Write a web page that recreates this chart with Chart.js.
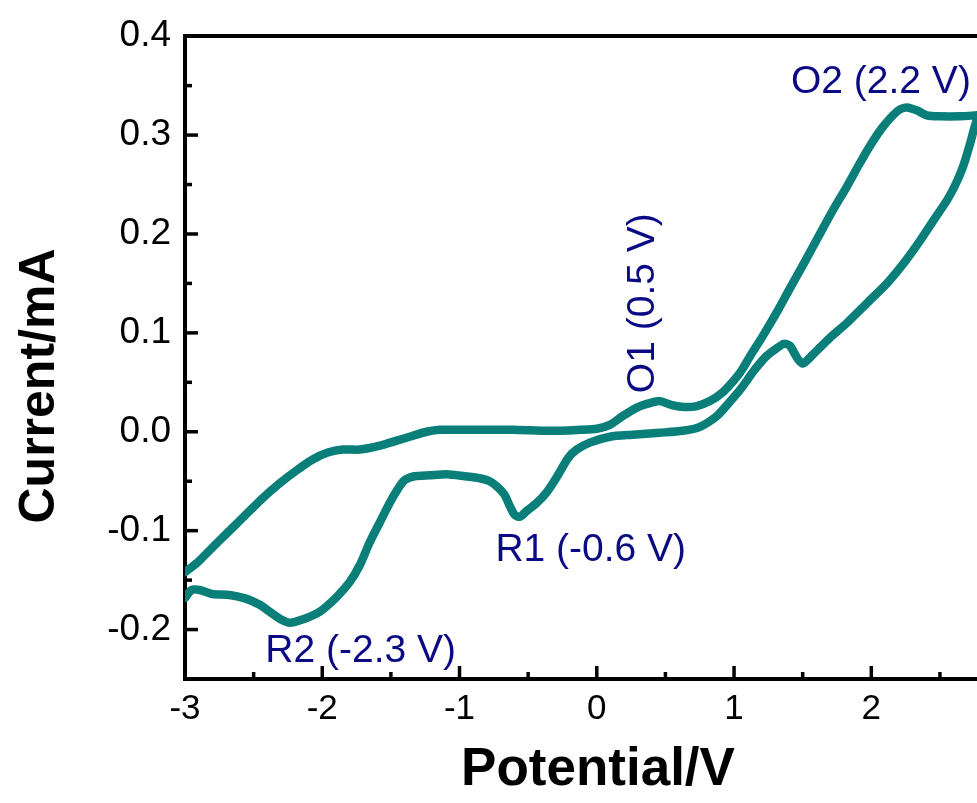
<!DOCTYPE html>
<html lang="en">
<head>
<meta charset="UTF-8">
<title>Cyclic voltammogram</title>
<script src="https://cdn.jsdelivr.net/npm/chart.js@4.4.1/dist/chart.umd.min.js"></script>
<style>
  html, body { margin: 0; padding: 0; background: #fff; }
  #wrap { width: 977px; height: 803px; }
</style>
</head>
<body>
<div id="wrap"><canvas id="cv" width="977" height="803"></canvas></div>
<script>
// forward scan (upper branch), -3 V up to the right edge
const fwdPotential = [-3.0, -2.908, -2.80, -2.675, -2.551, -2.434, -2.31, -2.187, -2.07, -1.96, -1.85, -1.727, -1.58, -1.458, -1.34, -1.24, -1.144, -0.926, -0.612, -0.343, -0.124, 0.0, 0.095, 0.19, 0.30, 0.386, 0.46, 0.547, 0.641, 0.729, 0.824, 0.918, 1.006, 1.064, 1.115, 1.21, 1.312, 1.407, 1.516, 1.625, 1.72, 1.822, 1.91, 1.99, 2.077, 2.157, 2.208, 2.259, 2.332, 2.405, 2.50, 2.646, 2.77];
const fwdCurrent   = [-0.142, -0.132, -0.117, -0.100, -0.083, -0.067, -0.052, -0.039, -0.028, -0.021, -0.018, -0.018, -0.014, -0.009, -0.004, 0.000, 0.002, 0.002, 0.002, 0.001, 0.002, 0.003, 0.007, 0.016, 0.025, 0.029, 0.031, 0.027, 0.025, 0.026, 0.031, 0.040, 0.053, 0.064, 0.076, 0.097, 0.121, 0.145, 0.172, 0.200, 0.224, 0.248, 0.270, 0.289, 0.307, 0.320, 0.326, 0.328, 0.325, 0.320, 0.319, 0.319, 0.320];

// reverse scan (lower branch), right edge back to -3 V
const revPotential = [2.77, 2.748, 2.719, 2.668, 2.61, 2.551, 2.464, 2.354, 2.245, 2.114, 1.968, 1.822, 1.698, 1.574, 1.501, 1.458, 1.407, 1.363, 1.297, 1.239, 1.152, 1.042, 0.955, 0.875, 0.751, 0.627, 0.459, 0.262, 0.095, -0.051, -0.146, -0.211, -0.292, -0.364, -0.437, -0.51, -0.561, -0.598, -0.634, -0.671, -0.722, -0.78, -0.853, -0.962, -1.093, -1.217, -1.327, -1.40, -1.45, -1.509, -1.582, -1.655, -1.727, -1.80, -1.895, -2.019, -2.128, -2.238, -2.31, -2.383, -2.456, -2.551, -2.675, -2.80, -2.893, -2.952, -3.0];
const revCurrent   = [0.316, 0.306, 0.291, 0.268, 0.249, 0.234, 0.216, 0.193, 0.172, 0.150, 0.130, 0.110, 0.095, 0.078, 0.069, 0.075, 0.087, 0.089, 0.083, 0.077, 0.063, 0.042, 0.028, 0.016, 0.005, 0.001, -0.001, -0.003, -0.005, -0.011, -0.018, -0.027, -0.046, -0.061, -0.072, -0.080, -0.086, -0.084, -0.075, -0.064, -0.056, -0.050, -0.047, -0.045, -0.043, -0.044, -0.045, -0.049, -0.058, -0.072, -0.092, -0.112, -0.135, -0.152, -0.167, -0.182, -0.189, -0.193, -0.189, -0.182, -0.175, -0.169, -0.165, -0.164, -0.160, -0.160, -0.168];

const xTicks = [-3, -2, -1, 0, 1, 2];
const xMinor = [-2.5, -1.5, -0.5, 0.5, 1.5, 2.5];
const yTicks = [-0.2, -0.1, 0.0, 0.1, 0.2, 0.3, 0.4];
const yMinor = [-0.15, -0.05, 0.05, 0.15, 0.25, 0.35];

// peak labels, anchored in data units
const peakText = ['O2 (2.2 V)', 'O1 (0.5 V)', 'R1 (-0.6 V)', 'R2 (-2.3 V)'];
const peakX = [2.07, 0.335, -0.044, -1.72];
const peakY = [0.353, 0.130, -0.120, -0.222];
const peakRotated = [false, true, false, false];

const FONT = "'Liberation Sans', Arial, sans-serif";
const TEAL = '#0a7f79';
const NAVY = '#0a0a84';

const toPoints = (xs, ys) => xs.map((v, i) => ({ x: v, y: ys[i] }));

// inward tick marks, axis titles and peak labels
const decorations = {
    id: 'decorations',
    afterDraw(chart) {
        const { ctx, chartArea: a, scales: { x, y } } = chart;
        ctx.save();
        ctx.strokeStyle = '#000';
        ctx.lineWidth = 3.5;
        ctx.lineCap = 'butt';
        const tick = (x1, y1, x2, y2) => {
            ctx.beginPath(); ctx.moveTo(x1, y1); ctx.lineTo(x2, y2); ctx.stroke();
        };
        xTicks.forEach(v => { const p = x.getPixelForValue(v); tick(p, a.bottom, p, a.bottom - 13); });
        xMinor.forEach(v => { const p = x.getPixelForValue(v); tick(p, a.bottom, p, a.bottom - 7); });
        yTicks.forEach(v => { const p = y.getPixelForValue(v); tick(a.left, p, a.left + 13, p); });
        yMinor.forEach(v => { const p = y.getPixelForValue(v); tick(a.left, p, a.left + 7, p); });

        // axis titles
        ctx.fillStyle = '#000';
        ctx.textAlign = 'center';
        ctx.textBaseline = 'middle';
        ctx.font = 'bold 53px ' + FONT;
        ctx.fillText('Potential/V', 598, 770);
        ctx.font = 'bold 50px ' + FONT;
        ctx.save();
        ctx.translate(40, 386);
        ctx.rotate(-Math.PI / 2);
        ctx.fillText('Current/mA', 0, 0);
        ctx.restore();

        // peak labels
        ctx.fillStyle = NAVY;
        ctx.font = '39px ' + FONT;
        peakText.forEach((t, i) => {
            const px = x.getPixelForValue(peakX[i]);
            const py = y.getPixelForValue(peakY[i]);
            ctx.save();
            ctx.translate(px, py);
            if (peakRotated[i]) ctx.rotate(-Math.PI / 2);
            ctx.fillText(t, 0, 0);
            ctx.restore();
        });
        ctx.restore();
    }
};

const lineStyle = {
    showLine: true,
    borderColor: TEAL,
    backgroundColor: TEAL,
    borderWidth: 8.5,
    pointRadius: 0,
    tension: 0.25,
    borderCapStyle: 'round',
    borderJoinStyle: 'round',
    fill: false
};

new Chart(document.getElementById('cv'), {
    type: 'scatter',
    data: {
        datasets: [
            Object.assign({ label: 'forward', data: toPoints(fwdPotential, fwdCurrent) }, lineStyle),
            Object.assign({ label: 'reverse', data: toPoints(revPotential, revCurrent) }, lineStyle)
        ]
    },
    options: {
        responsive: false,
        devicePixelRatio: 1,
        animation: false,
        layout: { padding: 0 },
        plugins: { legend: { display: false }, tooltip: { enabled: false } },
        scales: {
            x: {
                type: 'linear',
                position: 'bottom',
                min: -3,
                max: 2.77,
                afterBuildTicks: s => { s.ticks = xTicks.map(v => ({ value: v })); },
                afterFit: s => { s.height = 124; },
                ticks: {
                    color: '#000',
                    padding: 9,
                    font: { family: FONT, size: 35 },
                    callback: v => String(v)
                },
                grid: { display: false, drawTicks: false },
                border: { display: true, color: '#000', width: 4 }
            },
            xTop: {
                type: 'linear',
                position: 'top',
                min: -3,
                max: 2.77,
                afterFit: s => { s.height = 26; },
                ticks: { display: false },
                grid: { display: false, drawTicks: false },
                border: { display: true, color: '#000', width: 4 }
            },
            y: {
                type: 'linear',
                position: 'left',
                min: -0.25,
                max: 0.4,
                afterBuildTicks: s => { s.ticks = yTicks.map(v => ({ value: v })); },
                afterFit: s => { s.width = 185; },
                ticks: {
                    color: '#000',
                    padding: 14,
                    font: { family: FONT, size: 37 },
                    callback: v => v.toFixed(1)
                },
                grid: { display: false, drawTicks: false },
                border: { display: true, color: '#000', width: 4 }
            }
        }
    },
    plugins: [decorations]
});
</script>
</body>
</html>
